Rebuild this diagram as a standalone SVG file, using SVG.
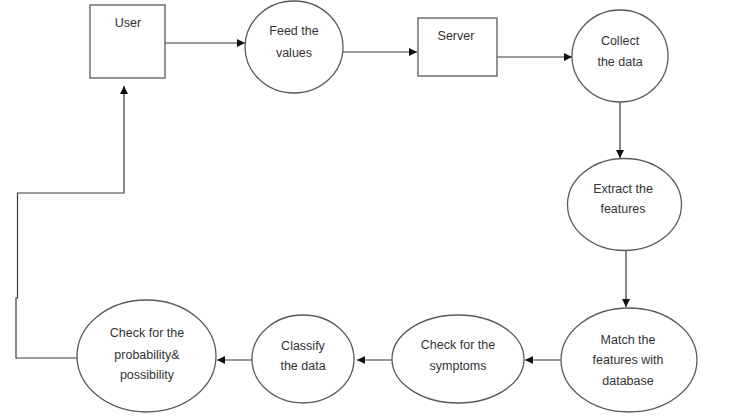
<svg xmlns="http://www.w3.org/2000/svg" width="741" height="419" viewBox="0 0 741 419">
<style>
.n{fill:#fff;stroke:#5a5a5a;stroke-width:1.3}
.t{font-family:"Liberation Sans",Arial,sans-serif;font-size:12.5px;fill:#333;text-anchor:middle}
.c{fill:none;stroke:#3a3a3a;stroke-width:1.2}
</style>
<defs>
<marker id="a" viewBox="0 0 10 10" refX="10" refY="5" markerWidth="8" markerHeight="8" markerUnits="userSpaceOnUse" orient="auto">
<path d="M0,0 L10,5 L0,10 z" fill="#111"/>
</marker>
</defs>
<rect width="741" height="419" fill="#fff"/>
<g id="connectors">
<path class="c" d="M165,43 H245" marker-end="url(#a)"/>
<path class="c" d="M343,52 H417" marker-end="url(#a)"/>
<path class="c" d="M497,57 H572" marker-end="url(#a)"/>
<path class="c" d="M620,102 V158" marker-end="url(#a)"/>
<path class="c" d="M626,251 V307" marker-end="url(#a)"/>
<path class="c" d="M561,360 H525" marker-end="url(#a)"/>
<path class="c" d="M392,360 H357" marker-end="url(#a)"/>
<path class="c" d="M252,360 H217" marker-end="url(#a)"/>
<path class="c" d="M77,358 H16 V298 H17.5 V193 H124 V86" marker-end="url(#a)"/>
</g>
<g id="user">
<rect class="n" x="90" y="5" width="75" height="73"/>
<text class="t" x="128" y="27">User</text>
</g>
<g id="feed">
<ellipse class="n" cx="294" cy="47" rx="49" ry="46"/>
<text class="t" x="294" y="35">Feed the</text>
<text class="t" x="294" y="57">values</text>
</g>
<g id="server">
<rect class="n" x="418" y="18" width="79" height="58"/>
<text class="t" x="456" y="40">Server</text>
</g>
<g id="collect">
<ellipse class="n" cx="620" cy="56" rx="48" ry="46"/>
<text class="t" x="620" y="45">Collect</text>
<text class="t" x="620" y="66">the data</text>
</g>
<g id="extract">
<ellipse class="n" cx="624.5" cy="204.5" rx="57" ry="46"/>
<text class="t" x="623" y="193">Extract the</text>
<text class="t" x="623" y="213">features</text>
</g>
<g id="match">
<ellipse class="n" cx="629" cy="360" rx="68" ry="52"/>
<text class="t" x="628" y="344">Match the</text>
<text class="t" x="628" y="364">features with</text>
<text class="t" x="628" y="385">database</text>
</g>
<g id="symptoms">
<ellipse class="n" cx="458" cy="359" rx="66" ry="44"/>
<text class="t" x="458" y="349">Check for the</text>
<text class="t" x="458" y="370">symptoms</text>
</g>
<g id="classify">
<ellipse class="n" cx="303" cy="359" rx="51" ry="44"/>
<text class="t" x="303" y="350">Classify</text>
<text class="t" x="303" y="370">the data</text>
</g>
<g id="probability">
<ellipse class="n" cx="146.5" cy="356" rx="69.5" ry="56"/>
<text class="t" x="147" y="337">Check for the</text>
<text class="t" x="147" y="359">probability&amp;</text>
<text class="t" x="147" y="379">possibility</text>
</g>
</svg>
